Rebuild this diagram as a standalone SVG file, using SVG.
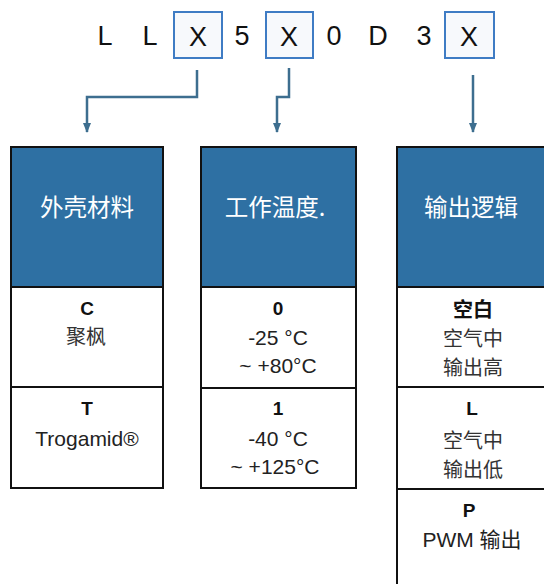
<svg xmlns="http://www.w3.org/2000/svg" width="544" height="584" viewBox="0 0 544 584">
<style>
.code{font-family:"Liberation Sans",Arial,sans-serif;font-size:27px;fill:#111;text-anchor:middle}
.xbox{fill:#f7f9fc;stroke:#3f7cc4;stroke-width:2}
.hdr{fill:#2e70a3;stroke:#111;stroke-width:2}
.cell{fill:#fff;stroke:#111;stroke-width:2}
.ht{font-family:"Noto Sans CJK SC",sans-serif;font-size:23.5px;fill:#fff;text-anchor:middle}
.b{font-family:"Liberation Sans",Arial,sans-serif;font-size:19px;font-weight:bold;fill:#111;text-anchor:middle}
.t{font-family:"Liberation Sans","Noto Sans CJK SC",sans-serif;font-size:21px;fill:#222;text-anchor:middle}
.c{font-family:"Noto Sans CJK SC",sans-serif;font-size:20px;fill:#333;text-anchor:middle}
.cb{font-family:"Noto Sans CJK SC",sans-serif;font-size:20px;font-weight:bold;fill:#111;text-anchor:middle}
.con{fill:none;stroke:#3d6e8f;stroke-width:2.5}
</style>
<defs>
<marker id="ah" viewBox="0 0 10 10" refX="9" refY="5" markerWidth="4" markerHeight="4" orient="auto" markerUnits="strokeWidth">
<path d="M0,1 L10,5 L0,9 Z" fill="#3d6e8f"/>
</marker>
</defs>
<g id="code">
<text class="code" x="105" y="45">L</text>
<text class="code" x="150" y="45">L</text>
<rect class="xbox" x="174" y="12" width="48" height="46"/>
<text class="code" x="198" y="46">X</text>
<text class="code" x="242" y="45">5</text>
<rect class="xbox" x="266" y="12" width="47" height="46"/>
<text class="code" x="289" y="46">X</text>
<text class="code" x="334" y="45">0</text>
<text class="code" x="378" y="45">D</text>
<text class="code" x="424" y="45">3</text>
<rect class="xbox" x="445" y="12" width="49" height="46"/>
<text class="code" x="469" y="46">X</text>
</g>
<g id="connectors">
<path class="con" d="M197,70 V97 H87 V132" marker-end="url(#ah)"/>
<path class="con" d="M289,68 V97 H277 V132" marker-end="url(#ah)"/>
<path class="con" d="M473,75 V132" marker-end="url(#ah)"/>
</g>
<g id="col-material">
<rect class="hdr" x="11" y="147" width="152" height="140"/>
<text class="ht" x="87" y="216">外壳材料</text>
<rect class="cell" x="11" y="287" width="152" height="100"/>
<text class="b" x="87" y="315">C</text>
<text class="c" x="86" y="344">聚枫</text>
<rect class="cell" x="11" y="387" width="152" height="101"/>
<text class="b" x="87" y="415">T</text>
<text class="t" x="87" y="446">Trogamid®</text>
</g>
<g id="col-temp">
<rect class="hdr" x="201" y="147" width="155" height="140"/>
<text class="ht" x="275" y="216">工作温度.</text>
<rect class="cell" x="201" y="287" width="155" height="101"/>
<text class="b" x="278" y="315">0</text>
<text class="t" x="278" y="345">-25 °C</text>
<text class="t" x="278" y="373">~ +80°C</text>
<rect class="cell" x="201" y="388" width="155" height="100"/>
<text class="b" x="278" y="415">1</text>
<text class="t" x="278" y="446">-40 °C</text>
<text class="t" x="275" y="474">~ +125°C</text>
</g>
<g id="col-output">
<rect class="hdr" x="397" y="147" width="160" height="140"/>
<text class="ht" x="471" y="216">输出逻辑</text>
<rect class="cell" x="397" y="287" width="160" height="100"/>
<text class="cb" x="473" y="317">空白</text>
<text class="c" x="473" y="346">空气中</text>
<text class="c" x="473" y="375">输出高</text>
<rect class="cell" x="397" y="387" width="160" height="102"/>
<text class="b" x="472" y="415">L</text>
<text class="c" x="473" y="448">空气中</text>
<text class="c" x="473" y="477">输出低</text>
<rect class="cell" x="397" y="489" width="160" height="110"/>
<text class="b" x="469" y="517">P</text>
<text class="t" x="472" y="547">PWM 输出</text>
</g>
</svg>
